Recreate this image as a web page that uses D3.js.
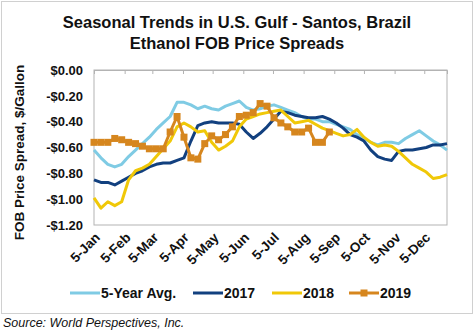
<!DOCTYPE html>
<html>
<head>
<meta charset="utf-8">
<script src="https://cdn.jsdelivr.net/npm/d3@7/dist/d3.min.js"></script>
<style>
  html, body { margin: 0; padding: 0; background: #fff; }
  svg { display: block; font-family: "Liberation Sans", Arial, sans-serif; }
</style>
</head>
<body>
<svg id="chart" width="474" height="331"></svg>
<script>
// ---- Data ----
const titleLines = ["Seasonal Trends in U.S. Gulf - Santos, Brazil", "Ethanol FOB Price Spreads"];
const yAxisTitle = "FOB Price Spread, $/Gallon";
const sourceText = "Source: World Perspectives, Inc.";
const monthLabels = ["5-Jan","5-Feb","5-Mar","5-Apr","5-May","5-Jun","5-Jul","5-Aug","5-Sep","5-Oct","5-Nov","5-Dec"];
const yTicks = [0, -0.2, -0.4, -0.6, -0.8, -1.0, -1.2];
const seriesNames = ["5-Year Avg.", "2017", "2018", "2019"];
const seriesColors = ["#7fcbe4", "#12407f", "#f0c808", "#d6861e"];

// weekly values starting 5-Jan
const avg5yr = [-0.62,-0.68,-0.73,-0.75,-0.73,-0.67,-0.62,-0.57,-0.52,-0.46,-0.41,-0.36,-0.25,-0.25,-0.27,-0.30,
  -0.28,-0.30,-0.31,-0.28,-0.26,-0.24,-0.29,-0.31,-0.30,-0.28,-0.27,-0.29,-0.31,-0.33,-0.36,-0.38,
  -0.38,-0.40,-0.40,-0.42,-0.44,-0.46,-0.50,-0.53,-0.56,-0.58,-0.56,-0.56,-0.57,-0.53,-0.50,-0.47,
  -0.51,-0.55,-0.58,-0.62];
const y2017 = [-0.85,-0.87,-0.87,-0.89,-0.86,-0.83,-0.80,-0.78,-0.75,-0.73,-0.72,-0.72,-0.70,-0.68,-0.55,-0.43,
  -0.41,-0.40,-0.41,-0.41,-0.41,-0.42,-0.48,-0.53,-0.49,-0.44,-0.38,-0.32,-0.33,-0.35,-0.36,-0.37,
  -0.37,-0.36,-0.38,-0.41,-0.45,-0.50,-0.52,-0.55,-0.62,-0.67,-0.69,-0.70,-0.63,-0.62,-0.62,-0.61,
  -0.60,-0.58,-0.58,-0.57];
const y2018 = [-0.99,-1.07,-1.02,-1.05,-1.02,-0.85,-0.78,-0.76,-0.73,-0.67,-0.61,-0.55,-0.44,-0.41,-0.44,-0.48,
  -0.47,-0.56,-0.62,-0.59,-0.55,-0.44,-0.38,-0.36,-0.34,-0.33,-0.32,-0.31,-0.36,-0.41,-0.40,-0.39,
  -0.42,-0.45,-0.47,-0.49,-0.51,-0.50,-0.46,-0.52,-0.56,-0.59,-0.58,-0.59,-0.63,-0.68,-0.73,-0.76,
  -0.79,-0.84,-0.83,-0.81];
const y2019 = [-0.56,-0.56,-0.56,-0.53,-0.54,-0.56,-0.57,-0.59,-0.61,-0.61,-0.61,-0.48,-0.36,-0.52,-0.68,-0.69,
  -0.57,-0.51,-0.54,-0.50,-0.44,-0.36,-0.35,-0.33,-0.26,-0.28,-0.37,-0.41,-0.44,-0.48,-0.48,-0.45,
  -0.56,-0.56,-0.48];

const allSeries = [avg5yr, y2017, y2018, y2019];

// ---- Chart ----
const svg = d3.select("#chart");
const W = 474, H = 331;
const plot = { left: 94, right: 447, top: 70, bottom: 225 };

const startDate = new Date(2019, 0, 5);
const weekDate = i => new Date(2019, 0, 5 + 7 * i);
const x = d3.scaleTime().domain([startDate, new Date(2019, 11, 28)]).range([plot.left, plot.right]);
const y = d3.scaleLinear().domain([-1.2, 0]).range([plot.bottom, plot.top]);
const monthDates = monthLabels.map((_, m) => new Date(2019, m, 5));

// outer border
svg.append("rect").attr("x", 1.5).attr("y", 1.5).attr("width", W - 3).attr("height", 312)
  .attr("fill", "none").attr("stroke", "#d0d0d0").attr("stroke-width", 1);

// title
svg.append("text").attr("x", W / 2).attr("y", 28).attr("text-anchor", "middle")
  .attr("font-size", 16.5).attr("font-weight", "bold").attr("fill", "#111")
  .selectAll("tspan").data(titleLines).join("tspan")
  .attr("x", W / 2).attr("dy", (d, i) => i === 0 ? 0 : 21).text(d => d);

// plot frame
svg.append("rect").attr("x", plot.left).attr("y", plot.top)
  .attr("width", plot.right - plot.left).attr("height", plot.bottom - plot.top)
  .attr("fill", "none").attr("stroke", "#b3b3b3").attr("stroke-width", 1);

// x axis tick marks at top (axis crosses at 0)
const xTop = svg.append("g").attr("transform", `translate(0,${plot.top})`)
  .call(d3.axisBottom(x).tickValues(monthDates).tickSize(4).tickFormat(""));
xTop.select(".domain").attr("stroke", "#b3b3b3");
xTop.selectAll(".tick line").attr("stroke", "#b3b3b3");

// x axis labels at bottom
const xBot = svg.append("g").attr("transform", `translate(0,${plot.bottom})`)
  .call(d3.axisBottom(x).tickValues(monthDates).tickSize(0).tickFormat((d, i) => monthLabels[i]));
xBot.select(".domain").remove();
xBot.selectAll(".tick text")
  .attr("x", 0).attr("y", 0).attr("dy", "0.35em")
  .attr("transform", "translate(3,10) rotate(-45)")
  .style("text-anchor", "end")
  .attr("font-size", 13.5).attr("font-weight", "bold").attr("fill", "#111")
  .attr("font-family", "'Liberation Sans', Arial, sans-serif");

// y axis
const yFmt = v => (v < -1e-9 ? "-" : "") + "$" + Math.abs(v).toFixed(2);
const yAx = svg.append("g").attr("transform", `translate(${plot.left},0)`)
  .call(d3.axisLeft(y).tickValues(yTicks).tickSize(0).tickPadding(11).tickFormat(yFmt));
yAx.select(".domain").remove();
yAx.selectAll(".tick text").attr("font-size", 13).attr("font-weight", "bold").attr("fill", "#111")
  .attr("font-family", "'Liberation Sans', Arial, sans-serif");

// y axis title
svg.append("text").attr("transform", `translate(24,${(62 + 243) / 2}) rotate(-90)`)
  .attr("text-anchor", "middle").attr("font-size", 13.5).attr("font-weight", "bold").attr("fill", "#111")
  .text(yAxisTitle);

// lines
const line = d3.line().x((d, i) => x(weekDate(i))).y(d => y(d));
allSeries.forEach((s, k) => {
  svg.append("path").datum(s).attr("d", line)
    .attr("fill", "none").attr("stroke", seriesColors[k]).attr("stroke-width", 3)
    .attr("stroke-linejoin", "round");
});
// 2019 markers
const ms = 7;
svg.append("g").selectAll("rect").data(y2019).join("rect")
  .attr("x", (d, i) => x(weekDate(i)) - ms / 2).attr("y", d => y(d) - ms / 2)
  .attr("width", ms).attr("height", ms).attr("fill", seriesColors[3]);

// legend
const legendY = 293;
const legendX = [70, 193, 272, 349];
const lg = svg.append("g");
seriesNames.forEach((name, k) => {
  const g = lg.append("g").attr("transform", `translate(${legendX[k]},${legendY})`);
  g.append("line").attr("x1", 0).attr("x2", 30).attr("y1", 0).attr("y2", 0)
    .attr("stroke", seriesColors[k]).attr("stroke-width", 3);
  if (k === 3) {
    g.append("rect").attr("x", 15 - ms / 2).attr("y", -ms / 2).attr("width", ms).attr("height", ms)
      .attr("fill", seriesColors[k]);
  }
  g.append("text").attr("x", 31).attr("y", 0).attr("dy", "0.36em")
    .attr("font-size", 14).attr("font-weight", "bold").attr("fill", "#111").text(name);
});

// source
svg.append("text").attr("x", 3).attr("y", 327).attr("font-size", 12.5).attr("font-style", "italic")
  .attr("fill", "#111").text(sourceText);
</script>
</body>
</html>
